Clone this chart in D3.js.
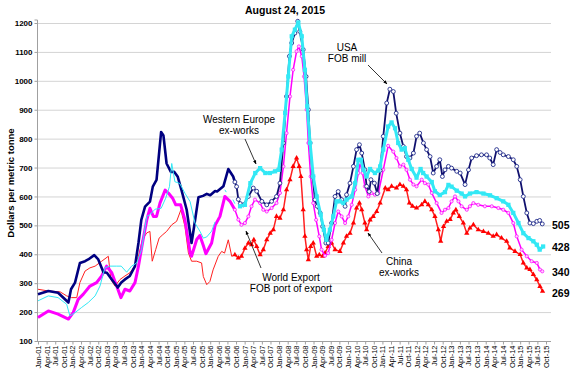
<!DOCTYPE html>
<html><head><meta charset="utf-8">
<script src="https://cdn.jsdelivr.net/npm/d3@7"></script>
<style>
body{margin:0;background:#fff}
svg{font-family:"Liberation Sans",Arial,sans-serif;display:block}
</style>
</head><body>
<svg id="chart" width="583" height="378"></svg>
<script>
// ---------- DATA (month index t: 0 = Jan-01; value in US$/tonne) ----------
const title = "August 24, 2015";
const yTicks = [100,200,300,400,500,600,700,800,900,1000,1100,1200];
const xTickLabels = ["Jan-01","Apr-01","Jul-01","Oct-01","Jan-02","Apr-02","Jul-02","Oct-02","Jan-03","Apr-03","Jul-03","Oct-03",
"Jan-04","Apr-04","Jul-04","Oct-04","Jan-05","Apr-05","Jul-05","Oct-05","Jan-06","Apr-06","Jul-06","Oct-06",
"Jan-07","Apr-07","Jul-07","Oct-07","Jan-08","Apr-08","Jul-08","Oct-08","Jan-09","Apr-09","Jul-09","Oct-09",
"Jan-10","Apr-10","Jul-10","Oct-10","Jan-11","Apr-11","Jul-11","Oct-11","Jan-12","Apr-12","Jul-12","Oct-12",
"Jan-13","Apr-13","Jul-13","Oct-13","Jan-14","Apr-14","Jul-14","Oct-14","Jan-15","Apr-15","Jul-15","Oct-15"];
const seriesNames = ["USA FOB mill","Western Europe ex-works","World Export FOB port of export","China ex-works"];
const lastValues = [505,428,340,269];

const usa = [[0,262],[3.6,273],[7,267],[10.6,233],[11.5,279],[12.9,302],[14.6,370],[16.4,376],[17.5,382],[19.6,397],[21,382],[22.8,338],[24,336],[25.7,313],[27.8,285],[29,302],[30.3,313],[32,325],[33.8,359],[35,439],[36,519],[37.3,565],[39,582],[40,634],[41.3,657],[42.9,823],[43.7,811],[44.8,714],[46.3,685],[47.5,685],[48.7,668],[50,622],[51.8,554],[53.5,439],[54.4,496],[55.9,597],[57.5,602],[58.8,609],[60,604],[61.7,619],[62.4,617],[64.6,635],[66.3,695],[68,669],[68.6,650],
[69.2,634],[69.8,590],[70.5,575],[71.6,571],[73.3,600],[75,629],[76.2,618],[78,583],[79.7,571],[81.4,583],[83.1,600],[84.3,646],[85.5,785],[86.6,946],[87.6,1085],[88.4,1131],[89.5,1165],[90.5,1206],[91.2,1171],[92.4,1108],[93.4,1015],[94.2,900],[94.8,785],[95.7,669],[96.5,589],[97.3,566],[98.3,543],[99.2,496],[100.3,439],[101.1,439],[102.3,508],[103.5,600],[104.6,617],[105.8,589],[107,566],[107.5,606],[108.7,646],[109.9,704],[111,762],[112,779],[112.8,750],[113.9,692],[114.5,635],[115.4,617],[116,658],[117.2,646],[118.2,610],[119.2,690],[120.3,808],[121.5,923],[122.6,971],[123.8,963],[124.8,888],[126.1,819],[127.3,773],[128.4,738],[129.6,733],[130.8,750],[131.9,808],[133,819],[134.3,785],[135.4,762],[136.6,738],[137.7,681],[138.9,704],[140,727],[140.9,669],[141.8,692],[143,704],[144.1,698],[145.9,687],[147.1,681],[148.8,641],[150,692],[151.1,733],[152.8,741],[154.5,744],[156.3,744],[157.4,733],[158.6,710],[159.8,762],[161,752],[162.1,744],[163.9,738],[165.6,727],[166.8,704],[168,658],[169.1,600],[170.3,543],[171.4,508],[172.6,506],[173.8,514],[174.8,517],[175.7,505]];

const westernEurope = [[0,239],[3.6,256],[7,250],[10,227],[11.1,187],[12.9,198],[15.2,216],[17.5,233],[19.9,256],[21.6,290],[23.3,353],[25,359],[27.3,359],[29,359],[30.9,338],[32.6,359],[34.4,370],[36.1,416],[37.9,531],[39,537],[40.8,556],[42.9,559],[44.5,594],[45.8,634],[46.6,714],[47.7,651],[49.4,645],[51.2,611],[53,582],[54.7,508],[56.4,480],[57.6,456],[58.8,460],[60.5,480],[61.7,512],[62.2,null],
[65.1,623],[65.6,615],[66,null],[67.9,589],[68.6,575],[69.2,null],
[70.4,566],[72.1,571],[74,646],[75.7,681],[77.4,698],[79.2,681],[80.8,681],[82.6,687],[83.8,692],[84.9,762],[86.1,889],[87.2,1015],[88.4,1154],[89.5,1177],[90.7,1202],[91.9,1154],[93,1038],[93.8,912],[94.8,785],[95.9,669],[97.1,600],[98.5,537],[99.6,485],[100.5,450],[101.7,485],[102.9,531],[104,583],[105.2,583],[106.4,577],[107.5,589],[109.3,600],[110.5,646],[111.6,727],[112.5,727],[113.4,692],[114.5,669],[115.7,695],[117.4,681],[118.6,690],[119.2,704],[120.3,762],[122,842],[123.2,856],[124.4,836],[125.5,785],[126.7,762],[127.8,767],[129,727],[130.2,695],[131.9,665],[133.3,695],[134.2,681],[135.4,669],[137.2,650],[138.3,618],[140,605],[141.8,615],[143,640],[144.1,634],[145.9,620],[147.6,610],[148.8,600],[150.5,610],[152.8,615],[155.2,610],[157.5,604],[159.8,594],[162.1,583],[163.9,571],[165.6,543],[167.4,508],[169.1,473],[170.9,456],[172.6,445],[173.8,433],[174.8,416],[176,427]];

const worldExport = [[0,181],[3.6,204],[7,193],[10.6,176],[12.3,199],[14,244],[15.8,262],[18.1,290],[20.4,302],[22.2,325],[23.9,359],[25.7,336],[27.4,290],[28.9,250],[30.3,279],[32,273],[33.8,302],[35,359],[36.4,439],[37.9,519],[39,559],[40.2,531],[41.3,531],[42.5,577],[44.3,622],[45.5,611],[46.9,594],[48,571],[49.7,571],[51.2,519],[53,405],[53.5,393],[55.3,451],[56.4,465],[57.6,430],[58.5,402],[60.5,439],[61.7,500],[63.4,531],[65.1,600],[66.9,583],[68.6,554],
[69.8,520],[70.9,502],[72.1,508],[73.3,531],[74.4,566],[75.6,589],[77.4,577],[78.5,554],[79.7,548],[81.4,560],[83.1,577],[84.3,612],[85.5,704],[86.6,819],[87.8,946],[88.9,1038],[90.1,1102],[90.9,1119],[91.9,1085],[92.7,1015],[93.6,900],[94.2,785],[95,669],[95.9,577],[96.9,519],[98,462],[98.8,416],[100,395],[101.1,404],[102.3,450],[103.5,508],[104.6,548],[105.8,531],[107,508],[108.1,531],[109.3,571],[110.5,623],[111.6,681],[112.2,716],[113.1,681],[113.9,635],[115.1,600],[116.2,612],[117.4,606],[118.6,612],[120.3,692],[122,775],[123.8,755],[124.9,733],[126.1,704],[127.3,710],[128.4,692],[129.6,658],[130.8,641],[131.9,635],[133.7,658],[134.8,646],[136,641],[137.2,612],[138.9,577],[140.6,543],[141.8,554],[143,560],[144.1,583],[145.3,600],[146.5,583],[147.6,566],[149.4,554],[150.5,566],[151.7,577],[153.4,571],[155.7,566],[158.1,566],[160.4,560],[162.1,554],[163.9,543],[165.6,508],[166.8,462],[168.5,416],[170.3,393],[172,376],[173.8,370],[174.9,347],[175.7,341]];

const china = [[0,279],[3.6,273],[7.7,270],[10,256],[11.7,250],[13.5,250],[14.6,302],[16.4,342],[18.1,353],[19.9,359],[22.2,376],[24.5,393],[25.4,313],[26.8,290],[28.6,313],[30.3,325],[32,336],[33.8,359],[35,393],[36.4,451],[37.9,474],[39,479],[39.8,376],[41,416],[42.2,456],[43.5,468],[44.8,479],[46.6,502],[48.3,514],[49.8,554],[51.2,496],[52.4,405],[53.5,376],[55.3,376],[57,370],[57.6,323],[58.8,295],[59.9,306],[61,346],[62.8,393],[64,410],[65,404],[66.3,450],[67.5,393],[68.6,398],
[69.8,387],[70.9,393],[72.1,421],[73.3,439],[74.4,433],[75.2,450],[76.2,427],[77.4,398],[78.5,416],[79.7,450],[80.9,473],[82,485],[83.1,531],[84.3,525],[85.5,554],[86.6,623],[87.8,658],[88.9,704],[90.1,733],[91,704],[91.6,669],[92.4,554],[93,462],[93.6,416],[94.2,381],[95,427],[95.9,439],[97.1,393],[98,398],[99.2,393],[100,404],[101.1,427],[102.3,439],[103.5,416],[105.2,410],[106.4,439],[107.5,462],[108.7,473],[109.9,508],[111,560],[112,577],[112.8,554],[113.9,508],[114.5,485],[115.7,519],[116.8,531],[118,548],[119.2,577],[121,629],[122,623],[123.2,635],[124.9,629],[126.1,641],[127.3,635],[128.4,623],[129.4,577],[130.5,566],[131.9,560],[133.7,571],[134.8,583],[136,571],[137.2,554],[138.3,531],[139.5,485],[140.3,445],[141.3,496],[142.4,514],[143.6,520],[144.7,543],[145.6,554],[146.8,531],[148.2,508],[149.4,473],[150.5,491],[151.7,502],[153.4,485],[155.2,479],[156.9,473],[158.6,462],[159.8,468],[161.5,456],[163.3,445],[164.4,422],[166.2,410],[168,399],[169.1,370],[170.3,353],[171.4,347],[172.6,330],[173.8,312],[174.9,289],[175.8,272]];

// ---------- CHART ----------
const svg = d3.select("#chart");
const W = 583, H = 378;
const plot = {left:37, right:551, top:20, bottom:341};
const x = d3.scaleLinear().domain([0,177]).range([38,546]);
const y = d3.scaleLinear().domain([100,1200]).range([341,23]);

svg.append("rect").attr("width",W).attr("height",H).attr("fill","#fff");

// gridlines
svg.append("g").selectAll("line").data(yTicks).join("line")
  .attr("x1",plot.left).attr("x2",plot.right)
  .attr("y1",d=>y(d)+0.5).attr("y2",d=>y(d)+0.5)
  .attr("stroke","#d4d4d4").attr("stroke-width",1);

// y axis
const yAxis = svg.append("g").attr("transform",`translate(${plot.left+0.5},0)`)
  .call(d3.axisLeft(y).tickValues(yTicks).tickSize(3).tickPadding(2).tickFormat(d3.format("d")));
yAxis.select(".domain").attr("d",`M-3,${plot.top}H0V${plot.bottom}`).attr("stroke","#a0a0a0");
yAxis.selectAll(".tick line").attr("stroke","#a0a0a0");
yAxis.selectAll("text").attr("font-size","8px").attr("font-weight","bold").attr("fill","#000")
  .attr("font-family","'Liberation Sans',Arial,sans-serif");

// x axis
const xTickVals = xTickLabels.map((d,i)=>i*3);
const xAxis = svg.append("g").attr("transform",`translate(0,${plot.bottom+0.5})`)
  .call(d3.axisBottom(x).tickValues(xTickVals).tickSize(3).tickFormat((d,i)=>xTickLabels[i]));
xAxis.select(".domain").attr("d",`M${plot.left},0H${plot.right}`).attr("stroke","#a0a0a0");
xAxis.selectAll(".tick line").attr("stroke","#a0a0a0");
xAxis.selectAll("text").attr("font-size","7.5px").attr("fill","#000")
  .attr("font-family","'Liberation Sans',Arial,sans-serif")
  .attr("transform","rotate(-90)").attr("text-anchor","end")
  .attr("x",-4).attr("y",0).attr("dy","0.33em");

// y-axis title
svg.append("text").attr("transform","translate(14,183) rotate(-90)")
  .attr("text-anchor","middle").attr("font-size","9.5px").attr("font-weight","bold")
  .text("Dollars per metric tonne");

// title
svg.append("text").attr("x",285).attr("y",14).attr("text-anchor","middle")
  .attr("font-size","10.5px").attr("font-weight","bold").text(title);

const line = d3.line().defined(d=>d[1]!=null).x(d=>x(d[0])).y(d=>y(d[1]));

function drawSeries(data, st){
  const early = data.filter(d=>d[0] <= st.split);
  const late = data.filter(d=>d[0] >= st.split);
  svg.append("path").datum(early).attr("d",line).attr("fill","none")
    .attr("stroke",st.color).attr("stroke-width",st.w1).attr("stroke-linejoin","round");
  svg.append("path").datum(late).attr("d",line).attr("fill","none")
    .attr("stroke",st.color2||st.color).attr("stroke-width",st.w2).attr("stroke-linejoin","round");
  const pts = late.filter(d=>d[1]!=null);
  svg.append("g").selectAll("path").data(pts).join("path")
    .attr("transform",d=>`translate(${x(d[0])},${y(d[1])})`)
    .attr("d",d3.symbol().type(st.symbol).size(st.size))
    .attr("fill",st.mfill).attr("stroke",st.mstroke).attr("stroke-width",st.msw);
}

drawSeries(china,{color:"#ff2020",w1:1,w2:1.5,split:68.6,symbol:d3.symbolTriangle,size:12,mfill:"#ff0000",mstroke:"none",msw:0});
drawSeries(worldExport,{color:"#ff00ff",w1:3,w2:1.5,split:68.6,symbol:d3.symbolCircle,size:8,mfill:"#ffd0ff",mstroke:"#ff00ff",msw:0.7});
drawSeries(usa,{color:"#000080",w1:2.6,w2:1.8,split:68.6,color2:"#10106e",symbol:d3.symbolCircle,size:12,mfill:"#ffffff",mstroke:"#1f2a8a",msw:0.9});
drawSeries(westernEurope,{color:"#33e8f5",w1:1,w2:3,split:69.2,symbol:d3.symbolSquare,size:18,mfill:"#33e8f5",mstroke:"none",msw:0});

// end value labels
svg.append("g").selectAll("text").data(lastValues).join("text")
  .attr("x",552).attr("y",(d,i)=>[225,247,272,293][i]+3.5)
  .attr("font-size","10.5px").attr("font-weight","bold").text(d=>d);

// annotations
const defs = svg.append("defs");
defs.append("marker").attr("id","arr").attr("viewBox","0 0 10 10").attr("refX",9).attr("refY",5)
  .attr("markerWidth",5).attr("markerHeight",5).attr("orient","auto")
  .append("path").attr("d","M0,1L10,5L0,9z").attr("fill","#000");

const notes = [
  {lines:["USA","FOB mill"], x:347, y:51, from:[368,65], to:[387,84]},
  {lines:["Western Europe","ex-works"], x:239, y:123, from:[245,139], to:[256,164]},
  {lines:["World Export","FOB port of export"], x:291, y:281, from:[261,268], to:[246,231]},
  {lines:["China","ex-works"], x:399, y:265, from:[382,253], to:[368,233]}
];
notes.forEach(n=>{
  const t = svg.append("text").attr("text-anchor","middle").attr("font-size","10px").attr("fill","#000");
  n.lines.forEach((l,i)=>t.append("tspan").attr("x",n.x).attr("y",n.y+i*11).text(l));
  svg.append("line").attr("x1",n.from[0]).attr("y1",n.from[1]).attr("x2",n.to[0]).attr("y2",n.to[1])
    .attr("stroke","#000").attr("stroke-width",0.8).attr("marker-end","url(#arr)");
});
</script>
</body></html>
